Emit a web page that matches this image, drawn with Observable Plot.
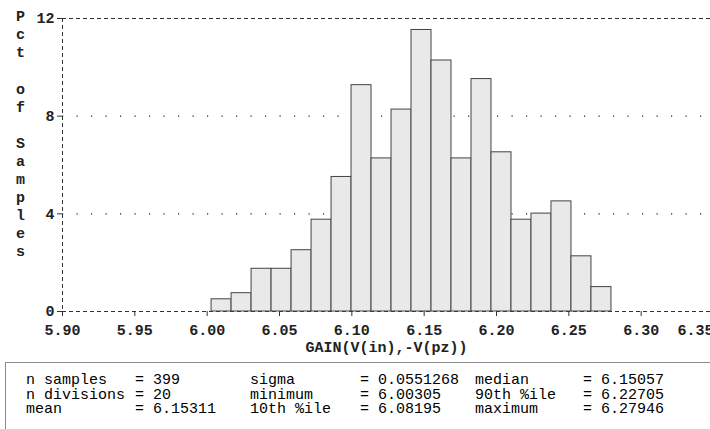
<!DOCTYPE html>
<html>
<head>
<meta charset="utf-8">
<script src="https://cdn.jsdelivr.net/npm/d3@7"></script>
<script src="https://cdn.jsdelivr.net/npm/@observablehq/plot@0.6"></script>
<style>
  html, body { margin: 0; padding: 0; background: #fff; overflow: hidden; }
  #wrap { position: relative; width: 710px; height: 429px; overflow: hidden; }
  #stats { position: absolute; left: 5px; top: 362px; width: 760px; height: 90px;
           border: 1.5px solid #8a8a8a; box-sizing: border-box;
           font-family: "Liberation Mono", "DejaVu Sans Mono", monospace; font-size: 15px; color: #000; }
  #stats span { position: absolute; white-space: pre; line-height: 14px; height: 14px; }
</style>
</head>
<body>
<div id="wrap"><div id="chart"></div><div id="stats"></div></div>
<script>
// ---- data ----
const pct = [0.50, 0.75, 1.75, 1.75, 2.51, 3.76, 5.51, 9.27, 6.27, 8.27,
             11.53, 10.28, 6.27, 9.52, 6.52, 3.76, 4.01, 4.51, 2.26, 1.00];
const minimum = 6.00305;
const maximum = 6.27946;
const nDivisions = 20;
const xTicks = [5.90, 5.95, 6.00, 6.05, 6.10, 6.15, 6.20, 6.25, 6.30];
const xTickLast = [6.35];
const yTicks = [0, 4, 8, 12];
const yGrid = [4, 8];
const xLabel = "GAIN(V(in),-V(pz))";
const yLabel = "Pct of Samples";
const statLabels = [["n samples", "n divisions", "mean"],
                    ["sigma", "minimum", "10th %ile"],
                    ["median", "90th %ile", "maximum"]];
const statValues = [["399", "20", "6.15311"],
                    ["0.0551268", "6.00305", "6.08195"],
                    ["6.15057", "6.22705", "6.27946"]];

const binW = (maximum - minimum) / nDivisions;
const bins = pct.map((p, i) => ({x1: minimum + i * binW, x2: minimum + (i + 1) * binW, y: p}));

const font = "'Liberation Mono', 'DejaVu Sans Mono', monospace";

const chart = Plot.plot({
  width: 710,
  height: 360,
  marginLeft: 62,
  marginRight: 0,
  marginTop: 18,
  marginBottom: 49,
  style: {fontFamily: font, fontSize: "15px", fontWeight: "bold", background: "white", color: "#222", overflow: "visible"},
  x: {domain: [5.90, 6.35], range: [62, 713]},
  y: {domain: [0, 12]},
  marks: [
    Plot.ruleY(yGrid, {stroke: "#222", strokeWidth: 1.2, strokeDasharray: "1.2,13.3"}),
    Plot.ruleY([0], {stroke: "#333", strokeDasharray: "4,3"}),
    Plot.ruleY([12], {stroke: "#333", strokeDasharray: "4,3"}),
    Plot.ruleX([5.90], {stroke: "#333", strokeDasharray: "4,3"}),
    Plot.rect(bins, {x1: "x1", x2: "x2", y1: 0, y2: "y", fill: "#e9e9e9", stroke: "#444", strokeWidth: 1}),
    Plot.axisY({ticks: yTicks, tickSize: 5, tickPadding: 3, label: null, tickFormat: d => String(d), stroke: "#333"}),
    Plot.axisX({ticks: xTicks, tickSize: 5, tickPadding: 8, label: null, tickFormat: d => d.toFixed(2), stroke: "#333"}),
    Plot.axisX({ticks: xTickLast, tickSize: 0, tickPadding: 13, dx: -18, label: null, tickFormat: d => d.toFixed(2)}),
    Plot.text([xLabel], {frameAnchor: "bottom", dy: 36, text: d => d, fontWeight: "bold", lineAnchor: "middle"}),
    Plot.text([yLabel.split("").join("\n")], {frameAnchor: "top-left", dx: -42, dy: -10, text: d => d,
      lineAnchor: "top", lineHeight: 1.205, textAnchor: "middle", fontWeight: "bold"})
  ]
});
document.getElementById("chart").appendChild(chart);

// stats box
const stats = document.getElementById("stats");
const colLabelX = [20, 244, 469];
const colEqX = [129, 354, 577];
const rowY = [11, 25.5, 40];
statLabels.forEach((col, c) => col.forEach((lab, r) => {
  const a = document.createElement("span");
  a.textContent = lab;
  a.style.left = colLabelX[c] + "px"; a.style.top = rowY[r] + "px";
  stats.appendChild(a);
  const b = document.createElement("span");
  b.textContent = "= " + statValues[c][r];
  b.style.left = colEqX[c] + "px"; b.style.top = rowY[r] + "px";
  stats.appendChild(b);
}));
</script>
</body>
</html>
